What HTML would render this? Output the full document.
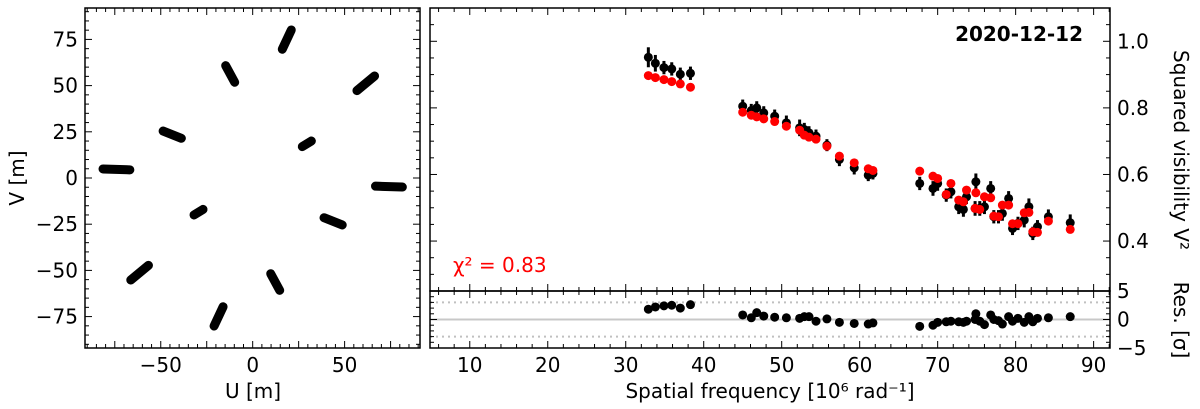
<!DOCTYPE html>
<html><head><meta charset="utf-8"><style>
html,body{margin:0;padding:0;background:#fff}
svg{display:block;font-family:"DejaVu Sans","Liberation Sans",sans-serif}
</style></head><body>
<svg id="fig" width="1200" height="409" viewBox="0 0 1200 409" xmlns="http://www.w3.org/2000/svg">
<rect width="1200" height="409" fill="#fff"/>
<g id="uv"></g>
<g id="v2"></g>
<g id="res"></g>
<g id="txt"></g>
</svg>
<script>
// ---- UV coverage data (track endpoints, metres) ----
const uvU1 = [-81.4, -48.7, -14.7, 16.1, 56.7, 27.0, 81.4, 38.8, 14.7, -16.1, -66.3, -27.0];
const uvV1 = [4.9, 25.4, 60.8, 69.7, 47.3, 17.0, -4.9, -21.5, -60.8, -69.7, -55.2, -17.0];
const uvU2 = [-66.8, -38.8, -9.8, 21.0, 66.3, 31.9, 66.8, 48.7, 9.8, -21.0, -56.7, -31.9];
const uvV2 = [4.4, 21.5, 51.8, 80.1, 55.2, 20.0, -4.4, -25.4, -51.8, -80.1, -47.3, -20.0];
const uvTicks = [-75, -50, -25, 0, 25, 50, 75];
const uvXTicks = [-50, 0, 50];

// ---- V2 data ----
const freq = [32.9,33.8,34.9,35.9,37.0,38.3,
  45.0,46.1,46.8,47.7,49.1,50.6,52.3,52.9,53.5,54.4,55.8,57.4,59.3,61.1,61.7,
  67.7,69.4,70.0,71.1,71.7,72.7,73.3,73.7,74.9,74.8,75.4,76.0,76.8,77.2,77.8,78.3,79.1,79.6,80.3,81.1,81.7,82.2,82.8,84.2,87.0];
const v2Obs = [0.952,0.934,0.921,0.917,0.901,0.904,
  0.805,0.792,0.800,0.785,0.775,0.755,0.740,0.735,0.725,0.715,0.688,0.645,0.620,0.598,0.603,
  0.573,0.558,0.573,0.538,0.548,0.503,0.495,0.533,0.578,0.498,0.498,0.503,0.558,0.473,0.473,0.483,0.528,0.438,0.453,0.463,0.503,0.423,0.443,0.473,0.455];
const v2Err = [0.03,0.025,0.02,0.02,0.02,0.02,
  0.02,0.02,0.02,0.02,0.02,0.022,0.025,0.02,0.02,0.02,0.018,0.02,0.02,0.018,0.018,
  0.02,0.022,0.022,0.02,0.02,0.022,0.022,0.022,0.025,0.022,0.022,0.022,0.022,0.02,0.02,0.022,0.022,0.02,0.02,0.022,0.025,0.02,0.02,0.022,0.025];
const v2Model = [0.897,0.891,0.885,0.879,0.872,0.862,
  0.787,0.778,0.773,0.767,0.759,0.745,0.733,0.718,0.712,0.706,0.685,0.655,0.635,0.617,0.612,
  0.610,0.595,0.588,0.540,0.573,0.523,0.518,0.553,0.545,0.498,0.495,0.533,0.530,0.475,0.473,0.508,0.508,0.452,0.452,0.485,0.486,0.428,0.426,0.460,0.435];
const resid = [1.8,2.2,2.4,2.5,2.0,2.6,
  0.8,0.3,1.2,0.6,0.4,0.3,0.2,0.5,0.5,-0.3,0.1,-0.5,-0.7,-0.8,-0.6,
  -1.2,-1.0,-0.5,-0.4,-0.3,-0.4,-0.5,-0.3,1.0,0.0,-0.3,-0.9,0.8,0.0,-0.2,-0.8,0.5,-0.3,0.2,-0.5,0.5,-0.4,0.2,0.3,0.5];
const fTicks = [10,20,30,40,50,60,70,80,90];
const vTicks = [0.4,0.6,0.8,1.0];
const rTicks = [-5,0,5];

const NS = "http://www.w3.org/2000/svg";
function mk(parent, tag, at){const e=document.createElementNS(NS,tag);for(const k in at)e.setAttribute(k,at[k]);parent.appendChild(e);return e;}

// ---- UV axes ----
const L={x0:85,x1:420,y0:8,y1:348,xmin:-91.2,xmax:91,ymin:-92,ymax:92};
const ux=u=>L.x0+(u-L.xmin)/(L.xmax-L.xmin)*(L.x1-L.x0);
const uy=v=>L.y1-(v-L.ymin)/(L.ymax-L.ymin)*(L.y1-L.y0);
const g1=document.getElementById('uv');
for(let i=0;i<uvU1.length;i++){
  const t=mk(g1,'line',{x1:ux(uvU1[i]),y1:uy(uvV1[i]),x2:ux(uvU2[i]),y2:uy(uvV2[i]),stroke:'#000','stroke-width':9,'stroke-linecap':'round'});
  
  
}
for(let v=-90;v<=90;v+=5){
  const maj=v%25===0; const len=maj?7:4;
  const y=uy(v); if(y<L.y0||y>L.y1)continue;
  mk(g1,'line',{x1:L.x0,y1:y,x2:L.x0+len,y2:y,stroke:'#000','stroke-width':1});
  mk(g1,'line',{x1:L.x1,y1:y,x2:L.x1-len,y2:y,stroke:'#000','stroke-width':1});
  const x=ux(v);
  if(x>=L.x0&&x<=L.x1){
    mk(g1,'line',{x1:x,y1:L.y1,x2:x,y2:L.y1-len,stroke:'#000','stroke-width':1});
    mk(g1,'line',{x1:x,y1:L.y0,x2:x,y2:L.y0+len,stroke:'#000','stroke-width':1});
  }
}
mk(g1,'rect',{x:L.x0,y:L.y0,width:L.x1-L.x0,height:L.y1-L.y0,fill:'none',stroke:'#000','stroke-width':1.5});
uvTicks.forEach(v=>{const t=mk(g1,'text',{x:L.x0-7,y:uy(v)+7,'text-anchor':'end','font-size':20});t.textContent=String(v).replace('-','\u2212');
  });
uvXTicks.forEach(v=>{const t=mk(g1,'text',{x:ux(v),y:372,'text-anchor':'middle','font-size':20});t.textContent=String(v).replace('-','\u2212');
  });

// ---- V2 axes ----
const R={x0:430,x1:1110,y0:8,y1:291,fmin:4.9,fmax:92.1,vmin:0.25,vmax:1.1};
const fx=f=>R.x0+(f-R.fmin)/(R.fmax-R.fmin)*(R.x1-R.x0);
const vy=v=>R.y1-(v-R.vmin)/(R.vmax-R.vmin)*(R.y1-R.y0);
const g2=document.getElementById('v2');
for(let k=0;k<=17;k++){const v=0.25+k*0.05; const y=vy(v); const m=Math.round(v*100)%20===0; const len=m?7:4;
  mk(g2,'line',{x1:R.x0,y1:y,x2:R.x0+len,y2:y,stroke:'#000'});mk(g2,'line',{x1:R.x1,y1:y,x2:R.x1-len,y2:y,stroke:'#000'});}
for(let f=6;f<=92;f+=2){const x=fx(f);const maj=f%10===0;const len=maj?7:4;
  mk(g2,'line',{x1:x,y1:R.y0,x2:x,y2:R.y0+len,stroke:'#000'});mk(g2,'line',{x1:x,y1:R.y1,x2:x,y2:R.y1-len,stroke:'#000'});}
for(let i=0;i<freq.length;i++){
  const x=fx(freq[i]);
  const e=mk(g2,'line',{x1:x,y1:vy(v2Obs[i]+v2Err[i]),x2:x,y2:vy(v2Obs[i]-v2Err[i]),stroke:'#000','stroke-width':3});
  
  const c=mk(g2,'circle',{cx:x,cy:vy(v2Obs[i]),r:4.5,fill:'#000'});
  
}
for(let i=0;i<freq.length;i++){
  const c=mk(g2,'circle',{cx:fx(freq[i]),cy:vy(v2Model[i]),r:4.5,fill:'#f00'});
  
}
mk(g2,'rect',{x:R.x0,y:R.y0,width:R.x1-R.x0,height:R.y1-R.y0,fill:'none',stroke:'#000','stroke-width':1.5});
vTicks.forEach(v=>{const t=mk(g2,'text',{x:R.x1+7,y:vy(v)+7,'font-size':20});t.textContent=v.toFixed(1);
  });

// ---- residuals ----
const S={y0:291,y1:348,rmin:-5,rmax:5};
const ry=r=>S.y1-(r-S.rmin)/(S.rmax-S.rmin)*(S.y1-S.y0);
const g3=document.getElementById('res');
mk(g3,'line',{x1:R.x0,y1:ry(0),x2:R.x1,y2:ry(0),stroke:'#c8c8c8','stroke-width':2});
[3,-3].forEach(r=>mk(g3,'line',{x1:R.x0,y1:ry(r),x2:R.x1,y2:ry(r),stroke:'#c0c0c0','stroke-width':2,'stroke-dasharray':'2 4'}));
for(let i=0;i<freq.length;i++){
  const c=mk(g3,'circle',{cx:fx(freq[i]),cy:ry(resid[i]),r:4.5,fill:'#000'});
  
}
for(let r=-5;r<=5;r+=1){const y=ry(r);const len=r%5===0?7:4;
  mk(g3,'line',{x1:R.x0,y1:y,x2:R.x0+len,y2:y,stroke:'#000'});mk(g3,'line',{x1:R.x1,y1:y,x2:R.x1-len,y2:y,stroke:'#000'});}
for(let f=6;f<=92;f+=2){const x=fx(f);const len=f%10===0?7:4;
  mk(g3,'line',{x1:x,y1:S.y0,x2:x,y2:S.y0+len,stroke:'#000'});mk(g3,'line',{x1:x,y1:S.y1,x2:x,y2:S.y1-len,stroke:'#000'});}
mk(g3,'rect',{x:R.x0,y:S.y0,width:R.x1-R.x0,height:S.y1-S.y0,fill:'none',stroke:'#000','stroke-width':1.5});
rTicks.forEach(r=>{const t=mk(g3,'text',{x:R.x1+7,y:ry(r)+7,'font-size':20});t.textContent=String(r).replace('-','\u2212');
  });
fTicks.forEach(f=>{const t=mk(g3,'text',{x:fx(f),y:372,'text-anchor':'middle','font-size':20});t.textContent=f;
  });

const T=document.getElementById('txt');
T.innerHTML=
'<text x="253" y="398" text-anchor="middle" font-size="20">U [m]</text>'+
'<text transform="translate(24,178) rotate(-90)" text-anchor="middle" font-size="20">V [m]</text>'+
'<text x="770" y="398" text-anchor="middle" font-size="20">Spatial frequency [10⁶ rad⁻¹]</text>'+
'<text transform="translate(1174,150) rotate(90)" text-anchor="middle" font-size="20">Squared visibility V²</text>'+
'<text transform="translate(1174,320) rotate(90)" text-anchor="middle" font-size="20">Res. [σ]</text>'+
'<text x="1083" y="41" text-anchor="end" font-size="20" font-weight="bold">2020-12-12</text>'+
'<text x="453" y="272" font-size="20" fill="#f00">χ² = 0.83</text>';
</script>
</body></html>
